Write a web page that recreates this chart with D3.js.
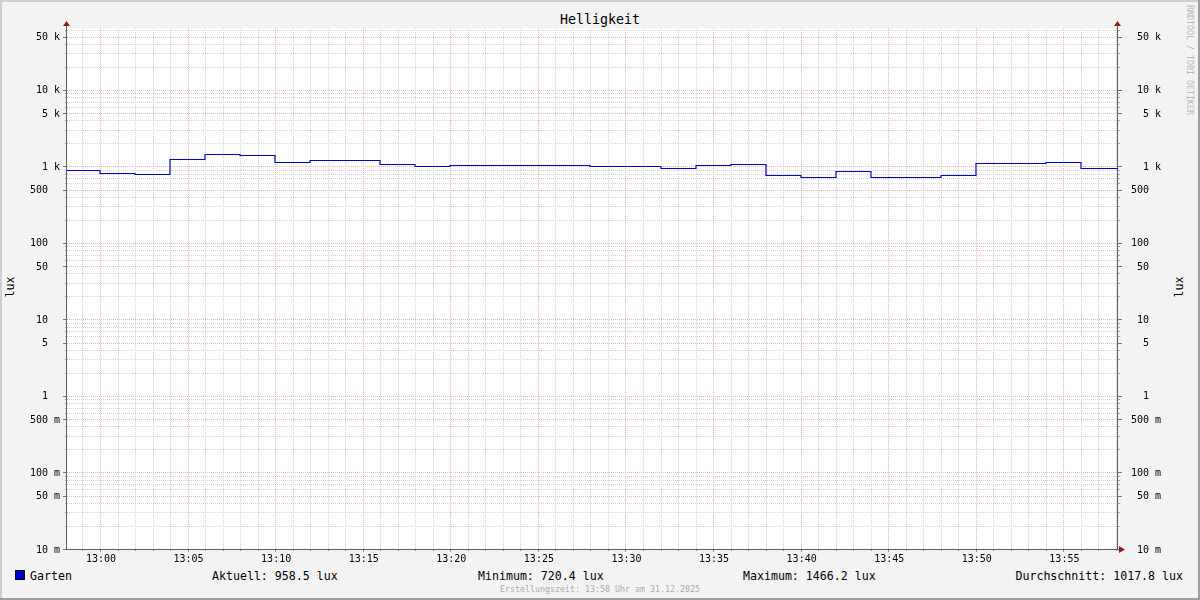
<!DOCTYPE html>
<html><head><meta charset="utf-8">
<script src="https://cdn.jsdelivr.net/npm/d3@7"></script>
<style>
body{margin:0;background:#f3f3f3}
text{font-family:"DejaVu Sans Mono",monospace;white-space:pre}
.gray{filter:grayscale(1)}
</style>
</head><body><svg id="c" width="1200" height="600"></svg>
<script>
// ---- data ----
const times = ["12:58","13:00","13:02","13:04","13:06","13:08","13:10","13:12","13:14","13:16",
               "13:18","13:20","13:22","13:24","13:26","13:28","13:30","13:32","13:34","13:36",
               "13:38","13:40","13:42","13:44","13:46","13:48","13:50","13:52","13:54","13:56"];
const values = [887,828,803,1261,1466.2,1393,1128,1223,1223,1062,
                1000,1052,1052,1052,1052,1021,1021,962,1052,1085,
                763,720.4,878,733,733,763,1117,1117,1152,958.5];
const seriesName = "Garten";
const timeStart = "12:58:07", timeEnd = "13:58:07";
const yMin = 0.01, yMax = 64600;
const yMajorValues = [0.01,0.05,0.1,0.5,1,5,10,50,100,500,1000,5000,10000,50000];
const yTickLabels = ["10 m","50 m","100 m","500 m","1  ","5  ","10  ","50  ","100  ","500  ","1 k","5 k","10 k","50 k"];
const xTickLabels = ["13:00","13:05","13:10","13:15","13:20","13:25","13:30","13:35","13:40","13:45","13:50","13:55"];
const statLabels = ["Aktuell: 958.5 lux","Minimum: 720.4 lux","Maximum: 1466.2 lux","Durchschnitt: 1017.8 lux"];
const title = "Helligkeit";
const yLabel = "lux";
const footer = "Erstellungszeit: 13:58 Uhr am 31.12.2025";
const watermark = "RRDTOOL / TOBI OETIKER";

// ---- layout ----
const L = 67, R = 1118, T = 28, B = 549;
const svg = d3.select("#c");
const parse = s => d3.timeParse("%Y-%m-%d %H:%M:%S")("2025-12-31 " + (s.length===5 ? s+":00" : s));
const x = d3.scaleTime().domain([parse(timeStart), parse(timeEnd)]).range([L, R]);
const y = d3.scaleLog().domain([yMin, yMax]).range([B, T]);

// background & borders
svg.append("rect").attr("width",1200).attr("height",600).attr("fill","#f3f3f3");
svg.append("path").attr("d","M0,600V0H1200").attr("fill","none").attr("stroke","#cfcfcf").attr("stroke-width",4);
svg.append("path").attr("d","M0,600H1200V0").attr("fill","none").attr("stroke","#9e9e9e").attr("stroke-width",4);
svg.append("rect").attr("x",L).attr("y",T).attr("width",R-L).attr("height",B-T).attr("fill","#fff");

const g = svg.append("g").attr("shape-rendering","crispEdges");
const minorC = "#d4d4d4", majorC = "#f3b3b3";
// minor horizontal grid
const minorY = [];
for (let e=-2;e<=4;e++) for (const m of [2,3,4,6,7,8,9]) { const v=m*Math.pow(10,e); if (v<=yMax) minorY.push(v); }
g.selectAll(".hmin").data(minorY).join("line")
  .attr("x1",L).attr("x2",R).attr("y1",d=>Math.round(y(d))+0.5).attr("y2",d=>Math.round(y(d))+0.5)
  .attr("stroke",minorC).attr("stroke-dasharray","1,1");
// minor vertical grid (every minute)
const minutes = d3.timeMinute.every(1).range(x.domain()[0], x.domain()[1]);
g.selectAll(".vmin").data(minutes.filter(d=>d.getMinutes()%5!==0)).join("line")
  .attr("y1",T).attr("y2",B).attr("x1",d=>Math.round(x(d))+0.5).attr("x2",d=>Math.round(x(d))+0.5)
  .attr("stroke",minorC).attr("stroke-dasharray","1,1");
// major grid
g.selectAll(".hmaj").data(yMajorValues).join("line")
  .attr("x1",L).attr("x2",R).attr("y1",d=>Math.round(y(d))+0.5).attr("y2",d=>Math.round(y(d))+0.5)
  .attr("stroke",majorC).attr("stroke-dasharray","1,1");
const majorX = xTickLabels.map(parse);
g.selectAll(".vmaj").data(majorX).join("line")
  .attr("y1",T).attr("y2",B).attr("x1",d=>Math.round(x(d))+0.5).attr("x2",d=>Math.round(x(d))+0.5)
  .attr("stroke",majorC).attr("stroke-dasharray","1,1");

// axes ticks
g.selectAll(".xt").data(minutes).join("line")
  .attr("x1",d=>Math.round(x(d))+0.5).attr("x2",d=>Math.round(x(d))+0.5)
  .attr("y1",B).attr("y2",d=>d.getMinutes()%5===0?B+3:B+2)
  .attr("stroke","#888");
g.selectAll(".ytl").data(yMajorValues).join("line")
  .attr("y1",d=>Math.round(y(d))+0.5).attr("y2",d=>Math.round(y(d))+0.5)
  .attr("x1",L-4).attr("x2",L).attr("stroke","#777");
g.selectAll(".ytr").data(yMajorValues).join("line")
  .attr("y1",d=>Math.round(y(d))+0.5).attr("y2",d=>Math.round(y(d))+0.5)
  .attr("x1",R).attr("x2",R+4).attr("stroke","#777");
g.selectAll(".ytlm").data(minorY).join("line")
  .attr("y1",d=>Math.round(y(d))+0.5).attr("y2",d=>Math.round(y(d))+0.5)
  .attr("x1",L-2).attr("x2",L).attr("stroke","#aaa");
g.selectAll(".ytrm").data(minorY).join("line")
  .attr("y1",d=>Math.round(y(d))+0.5).attr("y2",d=>Math.round(y(d))+0.5)
  .attr("x1",R).attr("x2",R+2).attr("stroke","#aaa");

// axis lines
g.append("line").attr("x1",L-0.5).attr("x2",L-0.5).attr("y1",T-4).attr("y2",B+0.5).attr("stroke","#5e5e5e");
g.append("line").attr("x1",R-0.5).attr("x2",R-0.5).attr("y1",T-4).attr("y2",B+0.5).attr("stroke","#5e5e5e");
g.append("line").attr("x1",L-0.5).attr("x2",R+2).attr("y1",B+0.5).attr("y2",B+0.5).attr("stroke","#5e5e5e");
// arrows
const arrowC = "#8f1b1b";
svg.append("path").attr("d",`M${L-4},${T-2}L${L-0.5},${T-7}L${L+3},${T-2}Z`).attr("fill",arrowC);
svg.append("path").attr("d",`M${R-4},${T-2}L${R-0.5},${T-7}L${R+3},${T-2}Z`).attr("fill",arrowC);
svg.append("path").attr("d",`M${R+1},${B-3}L${R+7},${B+0.5}L${R+1},${B+4}Z`).attr("fill",arrowC);

// data line
const pts = times.map((t,i)=>({t:parse(t), v:values[i]}));
pts.push({t:x.domain()[1], v:values[values.length-1]});
svg.append("defs").append("clipPath").attr("id","clip").append("rect")
  .attr("x",L).attr("y",T).attr("width",R-L).attr("height",B-T);
svg.append("path").datum(pts).attr("clip-path","url(#clip)")
  .attr("d", d3.line().x(d=>Math.round(x(d.t))).y(d=>Math.round(y(d.v))+0.5).curve(d3.curveStepAfter))
  .attr("fill","none").attr("stroke","#0000cc").attr("stroke-width",1.2);

// tick labels
const tf = "10px";
const tg = svg.append("g").attr("class","gray");
tg.selectAll(".yl").data(yMajorValues).join("text")
  .attr("x",60).attr("y",d=>y(d)+3.5).attr("text-anchor","end").attr("font-size",tf).attr("fill","#000")
  .text((d,i)=>yTickLabels[i]);
tg.selectAll(".yr").data(yMajorValues).join("text")
  .attr("x",1161).attr("y",d=>y(d)+3.5).attr("text-anchor","end").attr("font-size",tf).attr("fill","#000")
  .text((d,i)=>yTickLabels[i]);
tg.selectAll(".xl").data(majorX).join("text")
  .attr("x",d=>x(d)+1).attr("y",562).attr("text-anchor","middle").attr("font-size",tf).attr("fill","#000")
  .text((d,i)=>xTickLabels[i]);

// title & axis labels
svg.append("text").attr("x",600).attr("y",24).attr("text-anchor","middle").attr("font-size","13.3px").text(title);
svg.append("text").attr("transform","translate(14,287) rotate(-90)").attr("text-anchor","middle").attr("font-size","11.6px").text(yLabel);
svg.append("text").attr("transform","translate(1183,287) rotate(-90)").attr("text-anchor","middle").attr("font-size","11.6px").text(yLabel);
svg.append("text").attr("transform","translate(1187,5) rotate(90)").attr("text-anchor","start").attr("font-size","8.3px").attr("fill","#b8b8b8").text(watermark);

// legend
svg.append("rect").attr("x",15.5).attr("y",570.5).attr("width",9).attr("height",9).attr("fill","#0000cc").attr("stroke","#000");
svg.append("text").attr("x",30).attr("y",580).attr("font-size","11.6px").text(seriesName);
const statX = [212, 478, 743, 1183];
svg.selectAll(".st").data(statLabels).join("text")
  .attr("x",(d,i)=>statX[i]).attr("y",580).attr("font-size","11.6px")
  .attr("text-anchor",(d,i)=>i===3?"end":"start").text(d=>d);
svg.append("text").attr("x",600).attr("y",592).attr("text-anchor","middle").attr("font-size","8.3px").attr("fill","#aaa").text(footer);
</script></body></html>
